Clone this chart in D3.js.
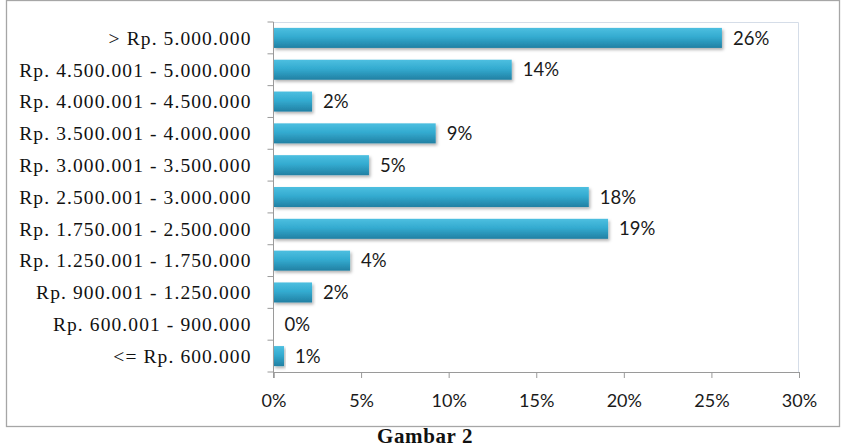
<!DOCTYPE html>
<html>
<head>
<meta charset="utf-8">
<script src="https://cdn.jsdelivr.net/npm/d3@7"></script>
<style>
  body { margin: 0; background: #fff; }
</style>
</head>
<body>
<svg id="chart"></svg>
<script>
// categories, top to bottom
const categories = [
    "> Rp. 5.000.000",
    "Rp. 4.500.001 - 5.000.000",
    "Rp. 4.000.001 - 4.500.000",
    "Rp. 3.500.001 - 4.000.000",
    "Rp. 3.000.001 - 3.500.000",
    "Rp. 2.500.001 - 3.000.000",
    "Rp. 1.750.001 - 2.500.000",
    "Rp. 1.250.001 - 1.750.000",
    "Rp. 900.001 - 1.250.000",
    "Rp. 600.001 - 900.000",
    "<= Rp. 600.000"
];
// share of respondents (fraction)
const values = [0.256, 0.136, 0.022, 0.0926, 0.0545, 0.180, 0.191, 0.0437, 0.022, 0, 0.006];
const xTicks = [0, 0.05, 0.10, 0.15, 0.20, 0.25, 0.30];
const caption = "Gambar 2";

const svg = d3.select("svg#chart")
    .attr("width", 843)
    .attr("height", 448);

const margin = { top: 22, right: 44, bottom: 76, left: 273.5 };
const width = 799 - margin.left;
const height = 372 - margin.top;

// outer frame
svg.append("rect")
    .attr("x", 6.5).attr("y", 0.5)
    .attr("width", 833).attr("height", 426)
    .attr("fill", "none")
    .attr("stroke", "#a6a6a6")
    .attr("stroke-width", 1.3);

// bar gradient + shadow
const defs = svg.append("defs");
const grad = defs.append("linearGradient")
    .attr("id", "barGrad")
    .attr("x1", 0).attr("y1", 0).attr("x2", 0).attr("y2", 1);
grad.append("stop").attr("offset", "0%").attr("stop-color", "#4dbfe0");
grad.append("stop").attr("offset", "45%").attr("stop-color", "#33abd0");
grad.append("stop").attr("offset", "100%").attr("stop-color", "#2280a3");

const shadow = defs.append("filter").attr("id", "shadow")
    .attr("x", "-5%").attr("y", "-20%").attr("width", "115%").attr("height", "160%");
shadow.append("feDropShadow")
    .attr("dx", 1.5).attr("dy", 2).attr("stdDeviation", 1.5)
    .attr("flood-color", "#000").attr("flood-opacity", 0.3);

const g = svg.append("g")
    .attr("transform", `translate(${margin.left}, ${margin.top})`);

const xScale = d3.scaleLinear().domain([0, 0.30]).range([0, width]);
const yScale = d3.scaleBand().domain(categories).range([0, height]).paddingInner(0.37).paddingOuter(0.185);

// plot area border (top / right)
g.append("path")
    .attr("d", `M0,0.5H${width - 0.5}V${height}`)
    .attr("fill", "none")
    .attr("stroke", "#d5dde8")
    .attr("stroke-width", 1);

// bars
g.append("g").selectAll("rect")
    .data(values)
    .enter()
    .append("rect")
    .attr("x", 0)
    .attr("y", (d, i) => yScale(categories[i]))
    .attr("width", d => xScale(d))
    .attr("height", yScale.bandwidth())
    .attr("fill", "url(#barGrad)")
    .attr("filter", "url(#shadow)");

// value labels
const pct = d3.format(".0%");
g.append("g").selectAll("text")
    .data(values)
    .enter()
    .append("text")
    .attr("x", d => xScale(d) + 11)
    .attr("y", (d, i) => yScale(categories[i]) + yScale.bandwidth() / 2)
    .attr("dy", "0.36em")
    .attr("font-family", "Lato, 'Open Sans', sans-serif")
    .attr("font-size", "18.5px")
    .attr("fill", "#1a1a1a")
    .text(d => pct(d));

// x axis
const xAxis = g.append("g")
    .attr("transform", `translate(0, ${height})`)
    .call(d3.axisBottom(xScale).tickValues(xTicks).tickFormat(pct).tickSize(6).tickSizeOuter(6));
xAxis.select(".domain").attr("stroke", "#9a9a9a");
xAxis.selectAll(".tick line").attr("stroke", "#9a9a9a");
xAxis.selectAll("text")
    .attr("font-family", "Lato, 'Open Sans', sans-serif")
    .attr("font-size", "18px")
    .attr("fill", "#1a1a1a")
    .attr("dy", "0")
    .attr("y", 35);

// y axis: line + ticks at band boundaries
g.append("line")
    .attr("x1", 0).attr("x2", 0).attr("y1", 0).attr("y2", height + 6)
    .attr("stroke", "#9a9a9a");
const step = height / categories.length;
g.append("g").selectAll("line")
    .data(d3.range(categories.length + 1))
    .enter()
    .append("line")
    .attr("x1", -6).attr("x2", 0)
    .attr("y1", d => d * step).attr("y2", d => d * step)
    .attr("stroke", "#9a9a9a");

// category labels
g.append("g").selectAll("text")
    .data(categories)
    .enter()
    .append("text")
    .attr("x", -22)
    .attr("y", d => yScale(d) + yScale.bandwidth() / 2)
    .attr("dy", "0.35em")
    .attr("text-anchor", "end")
    .attr("font-family", "'Liberation Serif', serif")
    .attr("font-size", "19.5px")
    .attr("letter-spacing", "1.1px")
    .attr("fill", "#111")
    .text(d => d);

// caption
svg.append("text")
    .attr("x", 425)
    .attr("y", 443)
    .attr("text-anchor", "middle")
    .attr("font-family", "'Liberation Serif', serif")
    .attr("font-weight", "bold")
    .attr("font-size", "21px")
    .attr("letter-spacing", "0.6px")
    .attr("fill", "#111")
    .text(caption);
</script>
</body>
</html>
